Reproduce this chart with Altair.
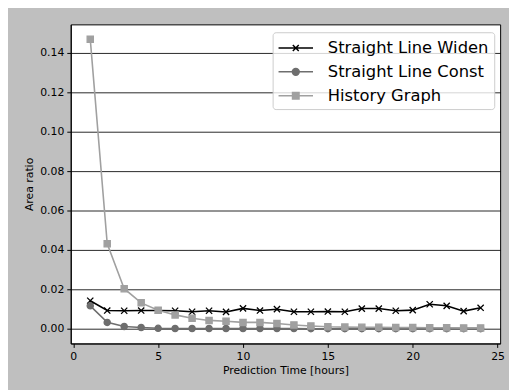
import altair as alt
import pandas as pd

hours = list(range(1, 25))
series_names = ["Straight Line Widen", "Straight Line Const", "History Graph"]
widen = [0.0143, 0.0093, 0.0092, 0.0093, 0.0093, 0.0092, 0.0087, 0.0092, 0.0086, 0.0104,
         0.0093, 0.0100, 0.0087, 0.0087, 0.0088, 0.0087, 0.0103, 0.0103, 0.0092, 0.0095,
         0.0125, 0.0117, 0.0090, 0.0107]
const = [0.0117, 0.0033, 0.0012, 0.0007, 0.0003, 0.0002, 0.0002, 0.0002, 0.0002, 0.0002,
         0.0002, 0.0002, 0.0002, 0.0001, 0.0001, 0.0001, 0.0001, 0.0001, 0.0001, 0.0001,
         0.0001, 0.0001, 0.0001, 0.0001]
history = [0.1470, 0.0432, 0.0204, 0.0132, 0.0095, 0.0071, 0.0054, 0.0043, 0.0039, 0.0033,
           0.0033, 0.0027, 0.0020, 0.0015, 0.0011, 0.0009, 0.0008, 0.0008, 0.0007, 0.0007,
           0.0006, 0.0006, 0.0005, 0.0005]
x_ticks = [0, 5, 10, 15, 20, 25]
y_ticks = [0.00, 0.02, 0.04, 0.06, 0.08, 0.10, 0.12, 0.14]

colors = ["#000000", "#6e6e6e", "#a0a0a0"]
marker_shapes = ["M-1,-1L1,1M-1,1L1,-1", "circle", "square"]
legend_paths = [
    "M-1.75,0H1.75M-0.3,-0.3L0.3,0.3M-0.3,0.3L0.3,-0.3",
    "M-1.75,0H1.75M0.35,0A0.35,0.35 0 1,1 -0.35,0A0.35,0.35 0 1,1 0.35,0Z",
    "M-1.75,0H1.75M-0.33,-0.33H0.33V0.33H-0.33Z",
]

rows = []
for name, vals in zip(series_names, [widen, const, history]):
    for h, v in zip(hours, vals):
        rows.append({"hour": h, "ratio": v, "series": name})
df = pd.DataFrame(rows)

x_enc = alt.X("hour:Q", scale=alt.Scale(domain=[-0.15, 25.15], nice=False, zero=False),
              axis=alt.Axis(values=x_ticks, title="Prediction Time [hours]", grid=False,
                            format="d"))
y_enc = alt.Y("ratio:Q", scale=alt.Scale(domain=[-0.0074, 0.1545], nice=False, zero=False),
              axis=alt.Axis(values=y_ticks, title="Area ratio", format=".2f", grid=True))

base = alt.Chart(df)

layers = []
for name, col in zip(series_names, colors):
    layers.append(
        base.transform_filter(alt.datum.series == name).mark_line(
            strokeWidth=1.6, color=col
        ).encode(x=x_enc, y=y_enc, order=alt.Order("hour:Q"))
    )
for name, shp, col in zip(series_names, marker_shapes, colors):
    layers.append(
        base.transform_filter(alt.datum.series == name).mark_point(
            filled=True, size=40, strokeWidth=1.3, opacity=1, shape=shp, fill=col, stroke=col
        ).encode(x=x_enc, y=y_enc)
    )

legend = alt.Legend(
    orient="none", legendX=205, legendY=8,
    symbolSize=400, symbolOffset=7.5, labelOffset=21.5, symbolStrokeWidth=1.5,
    labelFontSize=16.6, labelFont="DejaVu Sans", labelColor="#000000",
    rowPadding=4.2, padding=5, fillColor="rgba(255,255,255,0.8)", strokeColor="#cccccc",
    cornerRadius=3, labelLimit=400,
)

legend_layer = base.mark_point(filled=True, opacity=1, size=0).encode(
    x=x_enc, y=y_enc,
    fill=alt.Fill("series:N", scale=alt.Scale(domain=series_names, range=colors),
                  legend=legend, title=""),
    stroke=alt.Stroke("series:N", scale=alt.Scale(domain=series_names, range=colors),
                      legend=legend, title=""),
    shape=alt.Shape("series:N", scale=alt.Scale(domain=series_names, range=legend_paths),
                    legend=legend, title=""),
)
layers.append(legend_layer)

chart = alt.layer(*layers).properties(
    width=436, height=324,
    background="#bfbfbf",
    padding={"left": 63.7, "top": 13.7, "right": 9, "bottom": 44},
    autosize=alt.AutoSizeParams(type="none"),
).configure_view(
    fill="#ffffff", stroke="#000000", strokeWidth=1,
).configure_axis(
    labelFont="DejaVu Sans", titleFont="DejaVu Sans", labelFontSize=11, titleFontSize=11,
    labelColor="#000000", titleColor="#000000", titleFontWeight="normal",
    tickColor="#000000", tickSize=4, domainColor="#000000", labelPadding=3,
    gridColor="#000000", gridOpacity=0.85, gridWidth=1,
).configure_axisY(
    titlePadding=5,
).configure_axisX(
    titlePadding=4,
)

chart.save("out.html", embed_options={"renderer": "svg", "actions": False})
